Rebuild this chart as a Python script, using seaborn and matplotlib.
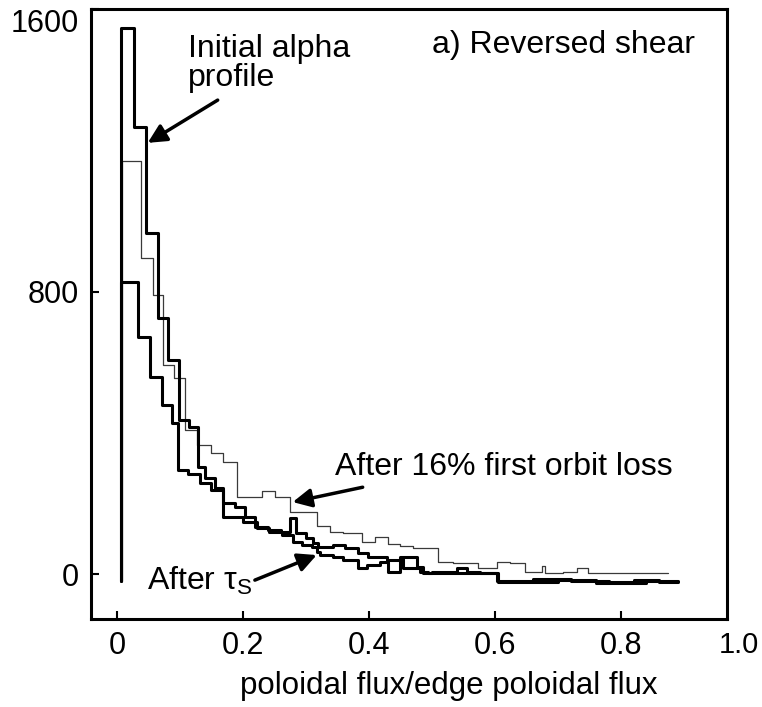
import matplotlib
matplotlib.use("Agg")
import numpy as np
import pandas as pd
import seaborn as sns
import matplotlib.pyplot as plt
import matplotlib.transforms as mtransforms

# step curves: x = start of each step, v = value on that step; last x closes the curve
base_level = -20

init_x = [0.006, 0.027, 0.046, 0.065, 0.081, 0.098, 0.114, 0.128, 0.140, 0.156,
          0.168, 0.187, 0.203, 0.219, 0.240, 0.260, 0.275, 0.285, 0.300, 0.311,
          0.319, 0.343, 0.362, 0.383, 0.399, 0.429, 0.449, 0.476, 0.486, 0.500,
          0.540, 0.556, 0.576, 0.603, 0.660, 0.720, 0.780, 0.820, 0.860, 0.890]
init_v = [1546, 1265, 967, 726, 607, 437, 417, 304, 272, 244,
          201, 190, 162, 133, 125, 119, 160, 116, 101, 88,
          77, 82, 74, 59, 48, 40, 48, 20, 3, 6,
          17, 6, 3, -20, -15, -20, -22, -18, -22, -22]

orbit_x = [0.008, 0.038, 0.057, 0.073, 0.090, 0.108, 0.127, 0.150, 0.168, 0.190,
           0.230, 0.251, 0.275, 0.317, 0.338, 0.359, 0.389, 0.410, 0.430, 0.449,
           0.470, 0.510, 0.534, 0.573, 0.603, 0.624, 0.648, 0.675, 0.680, 0.708,
           0.730, 0.748, 0.875]
orbit_v = [1170, 894, 789, 592, 555, 408, 366, 343, 318, 218,
           235, 218, 176, 136, 119, 116, 91, 105, 85, 80,
           74, 34, 31, 17, 34, 31, 6, 23, 3, 6,
           17, 3, 3]

slow_x = [0.006, 0.033, 0.052, 0.071, 0.087, 0.097, 0.113, 0.132, 0.149, 0.168,
          0.200, 0.222, 0.242, 0.262, 0.280, 0.293, 0.310, 0.317, 0.322, 0.343,
          0.359, 0.383, 0.397, 0.417, 0.430, 0.449, 0.454, 0.481, 0.494, 0.605,
          0.700, 0.760, 0.840, 0.890]
slow_v = [828, 672, 559, 479, 428, 295, 284, 258, 238, 162,
          148, 130, 119, 110, 91, 82, 77, 62, 54, 48,
          40, 17, 26, 34, 6, 43, 17, 6, 3, -22,
          -18, -24, -20, -20]

x_ticks = [0, 0.2, 0.4, 0.6, 0.8]
x_tick_labels = ["0", "0.2", "0.4", "0.6", "0.8"]
y_ticks = [0, 800, 1600]


def step_frame(xs, vs, name):
    # start from the base level, then step through the values
    xx = [xs[0]] + list(xs)
    yy = [base_level] + list(vs)
    return pd.DataFrame({"flux": xx, "value": yy, "curve": name})


sns.set_style("ticks")
plt.rcParams["font.family"] = ["Liberation Sans", "DejaVu Sans"]
plt.rcParams["mathtext.fontset"] = "custom"
plt.rcParams["mathtext.rm"] = "Liberation Sans"
for key in ["text.color", "axes.labelcolor", "xtick.color", "ytick.color"]:
    plt.rcParams[key] = "black"

fig = plt.figure(figsize=(7.62, 7.07), dpi=100)
ax = fig.add_axes([0.1194, 0.1245, 0.8347, 0.8628])

df_init = step_frame(init_x, init_v, "init")
df_orbit = step_frame(orbit_x, orbit_v, "orbit")
df_slow = step_frame(slow_x, slow_v, "slow")

sns.lineplot(data=df_orbit, x="flux", y="value", sort=False, estimator=None,
             drawstyle="steps-post", color="#3a3a3a", lw=0.9, ax=ax)
sns.lineplot(data=df_slow, x="flux", y="value", sort=False, estimator=None,
             drawstyle="steps-post", color="black", lw=2.2, ax=ax)
sns.lineplot(data=df_init, x="flux", y="value", sort=False, estimator=None,
             drawstyle="steps-post", color="black", lw=2.2, ax=ax)

ax.set_xlim(-0.041, 0.968)
ax.set_ylim(-127, 1600)
ax.set_xticks(x_ticks)
ax.set_xticklabels(x_tick_labels)
ax.set_yticks(y_ticks)
ax.set_yticklabels([str(t) for t in y_ticks])
for lab in ax.get_yticklabels():
    if lab.get_text() == "1600":
        lab.set_va("top")

ax.tick_params(axis="both", direction="in", length=6, width=1.5, labelsize=22, pad=9,
               colors="black")
for sp in ax.spines.values():
    sp.set_linewidth(2.2)
    sp.set_color("black")

# the 1.0 label sits past the right edge of the frame
trans = mtransforms.blended_transform_factory(ax.transData, ax.transAxes)
ax.text(1.019, -0.043, "1.0", transform=trans, ha="right", va="center",
        fontsize=21, clip_on=False)

ax.set_xlabel("poloidal flux/edge poloidal flux", fontsize=22.5)
ax.set_ylabel("")
ax.xaxis.set_label_coords(0.563, -0.11)
ax.xaxis.label.set_va("center")

ax.text(0.5, 1498, "a) Reversed shear", fontsize=23, ha="left", va="center")
ax.text(0.113, 1446, "Initial alpha\nprofile", fontsize=23, ha="left",
        va="center", linespacing=0.95)
ax.text(0.346, 303, "After 16% first orbit loss", fontsize=23, ha="left", va="center")
ax.text(0.048, -45, r"After τ$_\mathregular{S}$", fontsize=23, ha="left", va="baseline")

arrow = dict(arrowstyle="-|>", lw=2.5, color="black", mutation_scale=28, shrinkA=0, shrinkB=0)
ax.annotate("", xy=(0.049, 1221), xytext=(0.160, 1342), arrowprops=arrow)
ax.annotate("", xy=(0.279, 204), xytext=(0.390, 246), arrowprops=arrow)
ax.annotate("", xy=(0.317, 54), xytext=(0.219, -17), arrowprops=arrow)

fig.savefig("out.png", dpi=100)
